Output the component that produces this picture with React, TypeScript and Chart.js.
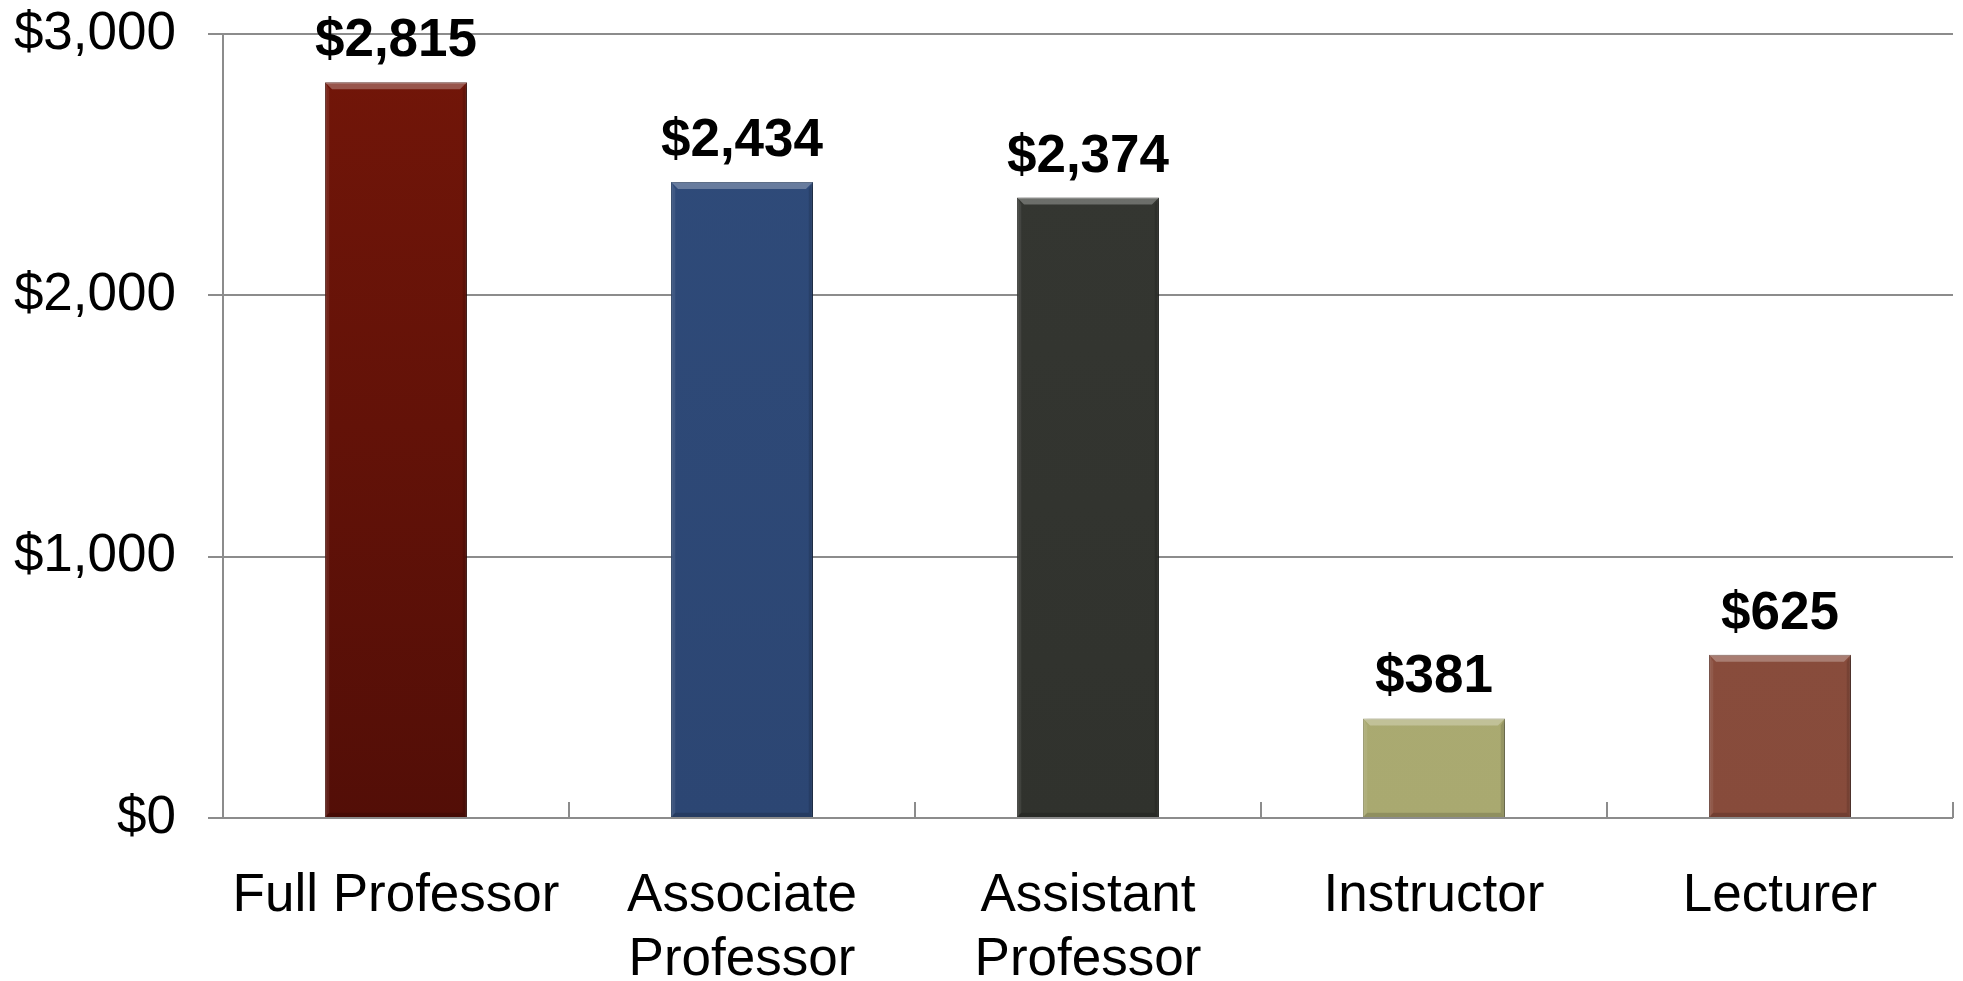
import React, { useEffect, useRef } from 'react';
import { Chart, registerables } from 'chart.js';

Chart.register(...registerables);

const categories: (string | string[])[] = [
  'Full Professor',
  ['Associate', 'Professor'],
  ['Assistant', 'Professor'],
  'Instructor',
  'Lecturer',
];
const values = [2815, 2434, 2374, 381, 625];
const barTopColors = ['#731609', '#2f4b7a', '#353732', '#aeae76', '#8c503f'];
const barBottomColors = ['#530e07', '#2c4673', '#30322d', '#a9a970', '#874b3b'];
const barBorderColors = ['#4a0c05', '#223a60', '#252722', '#8f8f5c', '#5e3024'];
const yTickValues = [0, 1000, 2000, 3000];

const FONT = '"Liberation Sans", Arial, Helvetica, sans-serif';
const GRID = '#8c8c8c';

const fmt = (v: number) => '$' + v.toLocaleString('en-US');

const shadowPlugin = {
  id: 'barShadow',
  beforeDatasetsDraw(chart: any) {
    const ctx = chart.ctx;
    ctx.save();
    ctx.shadowColor = 'rgba(0,0,0,0.35)';
    ctx.shadowBlur = 6;
    ctx.shadowOffsetX = 3;
    ctx.shadowOffsetY = 2;
  },
  afterDatasetsDraw(chart: any) {
    chart.ctx.restore();
  },
};

const bevelPlugin = {
  id: 'bevel',
  afterDatasetsDraw(chart: any) {
    const ctx = chart.ctx;
    const meta = chart.getDatasetMeta(0);
    meta.data.forEach((bar: any) => {
      const { x, y, base, width } = bar.getProps(['x', 'y', 'base', 'width'], true);
      const l = x - width / 2;
      const r = x + width / 2;
      const t = y;
      const b = base;
      const k = 7;
      ctx.save();
      ctx.beginPath();
      ctx.moveTo(l, t);
      ctx.lineTo(r, t);
      ctx.lineTo(r - k, t + k);
      ctx.lineTo(l + k, t + k);
      ctx.closePath();
      ctx.fillStyle = 'rgba(255,255,255,0.28)';
      ctx.fill();
      ctx.beginPath();
      ctx.moveTo(l, t);
      ctx.lineTo(l + k * 0.6, t + k);
      ctx.lineTo(l + k * 0.6, b - k * 0.6);
      ctx.lineTo(l, b);
      ctx.closePath();
      ctx.fillStyle = 'rgba(255,255,255,0.08)';
      ctx.fill();
      ctx.beginPath();
      ctx.moveTo(r, t);
      ctx.lineTo(r - k * 0.6, t + k);
      ctx.lineTo(r - k * 0.6, b - k * 0.6);
      ctx.lineTo(r, b);
      ctx.closePath();
      ctx.fillStyle = 'rgba(0,0,0,0.12)';
      ctx.fill();
      ctx.beginPath();
      ctx.moveTo(l, b);
      ctx.lineTo(r, b);
      ctx.lineTo(r - k * 0.6, b - k * 0.6);
      ctx.lineTo(l + k * 0.6, b - k * 0.6);
      ctx.closePath();
      ctx.fillStyle = 'rgba(0,0,0,0.15)';
      ctx.fill();
      ctx.restore();
    });
  },
};

const valueLabelPlugin = {
  id: 'valueLabels',
  afterDatasetsDraw(chart: any) {
    const ctx = chart.ctx;
    const meta = chart.getDatasetMeta(0);
    ctx.save();
    ctx.font = `bold 53px ${FONT}`;
    ctx.fillStyle = '#000';
    ctx.textAlign = 'center';
    ctx.textBaseline = 'alphabetic';
    meta.data.forEach((bar: any, i: number) => {
      const { x, y } = bar.getProps(['x', 'y'], true);
      ctx.fillText(fmt(values[i]), x, y - 26);
    });
    ctx.restore();
  },
};

const xTickPlugin = {
  id: 'xTickMarks',
  afterDraw(chart: any) {
    const xs = chart.scales.x;
    const ys = chart.scales.y;
    const ctx = chart.ctx;
    const base = ys.getPixelForValue(0);
    const half = (xs.getPixelForValue(1) - xs.getPixelForValue(0)) / 2;
    ctx.save();
    ctx.strokeStyle = GRID;
    ctx.lineWidth = 2;
    for (let i = 0; i < categories.length; i++) {
      const px = Math.round(xs.getPixelForValue(i) + half);
      ctx.beginPath();
      ctx.moveTo(px, base);
      ctx.lineTo(px, base - 16);
      ctx.stroke();
    }
    ctx.restore();
  },
};

export default function App() {
  const ref = useRef<HTMLCanvasElement | null>(null);

  useEffect(() => {
    if (!ref.current) return;
    const chart = new Chart(ref.current, {
      type: 'bar',
      data: {
        labels: categories as any,
        datasets: [
          {
            data: values,
            backgroundColor: (c: any) => {
              const i = c.dataIndex;
              const area = c.chart.chartArea;
              if (!area) return barTopColors[i];
              const g = c.chart.ctx.createLinearGradient(0, area.top, 0, area.bottom);
              g.addColorStop(0, barTopColors[i]);
              g.addColorStop(1, barBottomColors[i]);
              return g;
            },
            borderColor: barBorderColors,
            borderWidth: 1,
            barPercentage: 0.41,
            categoryPercentage: 1,
          },
        ],
      },
      options: {
        responsive: true,
        maintainAspectRatio: false,
        animation: false,
        layout: { padding: { top: 34, right: 10, bottom: 0, left: 0 } },
        plugins: {
          legend: { display: false },
          tooltip: { enabled: false },
        },
        scales: {
          x: {
            grid: { display: false },
            border: { display: false },
            ticks: {
              autoSkip: false,
              maxRotation: 0,
              minRotation: 0,
              padding: 38,
              color: '#000',
              font: { family: FONT, size: 53, lineHeight: 1.21 },
            },
            afterFit: (s: any) => {
              s.height = 163;
              s.paddingLeft = 0;
              s.paddingRight = 0;
            },
          },
          y: {
            min: 0,
            max: 3000,
            afterBuildTicks: (s: any) => {
              s.ticks = yTickValues.map((v) => ({ value: v }));
            },
            grid: {
              color: GRID,
              lineWidth: 2,
              drawTicks: true,
              tickLength: 15,
            },
            border: { display: true, color: GRID, width: 2 },
            ticks: {
              padding: 32,
              color: '#000',
              font: { family: FONT, size: 53 },
              callback: (v: any) => fmt(Number(v)),
            },
            afterFit: (s: any) => {
              s.width = 223;
              s.paddingTop = 0;
              s.paddingBottom = 0;
            },
          },
        },
      },
      plugins: [shadowPlugin, bevelPlugin, valueLabelPlugin, xTickPlugin],
    });
    return () => chart.destroy();
  }, []);

  return (
    <div style={{ position: 'fixed', left: 0, top: 0, width: 1963, height: 981, background: '#fff' }}>
      <canvas ref={ref} />
    </div>
  );
}
